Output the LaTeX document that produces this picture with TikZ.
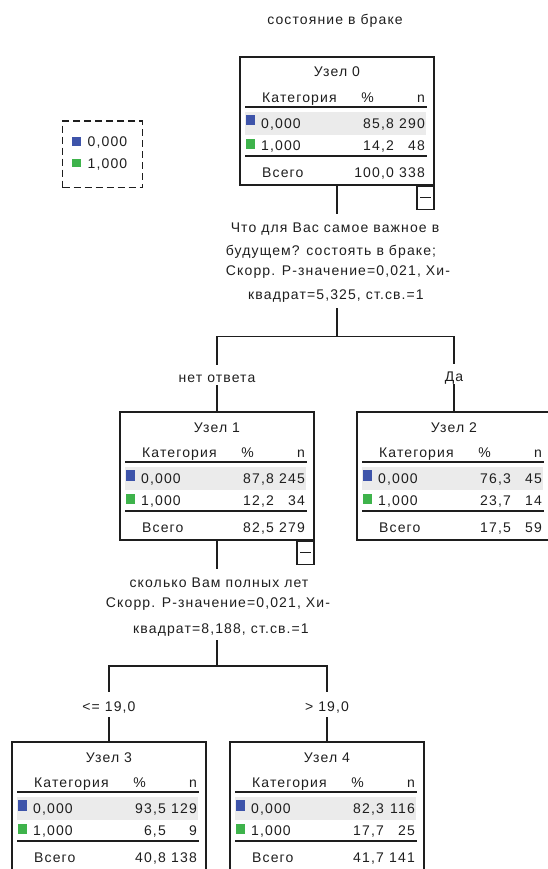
\documentclass[tikz,border=0pt]{standalone}
\usepackage{fontspec}
\setmainfont{Liberation Sans}[LetterSpace=8]
\definecolor{ink}{HTML}{1E1E1E}
\definecolor{cblue}{HTML}{3E54AA}
\definecolor{cgreen}{HTML}{3EB34B}
\definecolor{band}{HTML}{EBEBEB}
\tikzset{
  txt/.style={inner sep=0pt, font=\fontsize{14}{16}\selectfont, text=ink},
  frame/.style={draw=ink, line width=1.3pt, minimum width=194pt, minimum height=128pt, inner sep=0pt},
  rule/.style={draw=ink, line width=2pt},
  conn/.style={draw=ink, line width=1.4pt},
  minusbox/.style={draw=ink, line width=1.3pt, minimum width=17pt, minimum height=23pt, inner sep=0pt},
  labA/.style={txt, anchor=base, text height=17pt, text depth=3pt},
  labB/.style={txt, anchor=base, text height=19pt, text depth=6pt},
  legendbox/.style={draw=ink, line width=1.3pt, dash pattern=on 7pt off 4pt, minimum width=80pt, minimum height=66.5pt, inner sep=0pt},
}
% #1 name, #2 x0,y0, #3 title, #4 p1, #5 n1, #6 p2, #7 n2, #8 ptot, #9 ntot
\newcommand{\treenode}[9]{%
\begin{scope}[shift={(#2)}]
  \fill[band] (5,55) rectangle (186,78);
  \node[frame] (#1) at (97,64) {};
  \node[txt, anchor=base] (#1-title) at (97,20) {#3};
  \node[txt, anchor=base west] (#1-hc) at (22,45.5) {Категория};
  \node[txt, anchor=base] (#1-hp) at (127.5,45.5) {\%};
  \node[txt, anchor=base east] (#1-hn) at (185,45.5) {n};
  \draw[rule] (5,50) -- (187,50);
  \fill[cblue] (5.7,58) rectangle (15,68.5);
  \node[txt, anchor=base west] (#1-c0) at (21,71.5) {0,000};
  \node[txt, anchor=base east] (#1-p0) at (154,71.5) {#4};
  \node[txt, anchor=base east] (#1-n0) at (185,71.5) {#5};
  \fill[cgreen] (5.7,82) rectangle (15,92);
  \node[txt, anchor=base west] (#1-c1) at (21,93.5) {1,000};
  \node[txt, anchor=base east] (#1-p1) at (154,93.5) {#6};
  \node[txt, anchor=base east] (#1-n1) at (185,93.5) {#7};
  \draw[rule] (5,99) -- (187,99);
  \node[txt, anchor=base west] (#1-tc) at (22,120.5) {Всего};
  \node[txt, anchor=base east] (#1-tp) at (154,120.5) {#8};
  \node[txt, anchor=base east] (#1-tn) at (185,120.5) {#9};
\end{scope}}
\begin{document}
\begin{tikzpicture}[x=1pt, y=-1pt]
\useasboundingbox (0,0) rectangle (548,869);

% title
\node[txt, anchor=base] (title) at (335,25) {состояние в браке};

% legend
\node[legendbox, anchor=north west] (legend) at (62,120.5) {};
\fill[cblue] (72,137.3) rectangle (81,146);
\node[txt, anchor=base west] (lg0) at (87.5,146.5) {0,000};
\fill[cgreen] (72,159.3) rectangle (81,167.5);
\node[txt, anchor=base west] (lg1) at (87.5,168) {1,000};

% nodes
\treenode{n0}{240,57}{Узел 0}{85,8}{290}{14,2}{48}{100,0}{338}
\treenode{n1}{120,412}{Узел 1}{87,8}{245}{12,2}{34}{82,5}{279}
\treenode{n2}{357,412}{Узел 2}{76,3}{45}{23,7}{14}{17,5}{59}
\treenode{n3}{12,742}{Узел 3}{93,5}{129}{6,5}{9}{40,8}{138}
\treenode{n4}{230,742}{Узел 4}{82,3}{116}{17,7}{25}{41,7}{141}

% collapse boxes
\node[minusbox, anchor=north east] (n0m) at (n0.south east) {};
\draw[ink, line width=1.2pt] ([xshift=-5.5pt]n0m.center) -- ([xshift=5.5pt]n0m.center);
\node[minusbox, anchor=north east] (n1m) at (n1.south east) {};
\draw[ink, line width=1.2pt] ([xshift=-5.5pt]n1m.center) -- ([xshift=5.5pt]n1m.center);

% split 1
\node[txt, anchor=base] (s1a) at (335,232) {Что для Вас самое важное в};
\node[txt, anchor=base] (s1b) at (331,255) {будущем? состоять в браке;};
\node[txt, anchor=base] (s1c) at (338,275) {Скорр. P-значение=0,021, Хи-};
\node[txt, anchor=base] (s1d) at (336,299) {квадрат=5,325, ст.св.=1};
\coordinate (s1top) at (337,214);
\coordinate (s1bot) at (337,308);
\coordinate (j1) at (337,336.5);
\node[labA] (l1) at (217,382) {нет ответа};
\node[labA] (l2) at (454,381) {Да};

\draw[conn] (n0.south) -- (s1top);
\draw[conn] (s1bot) -- (j1);
\draw[conn] (j1) -| (l1.north);
\draw[conn] (j1) -| (l2.north);
\draw[conn] (l1.south) -- (n1.north);
\draw[conn] (l2.south) -- (n2.north);

% split 2
\node[txt, anchor=base] (s2a) at (219,587) {сколько Вам полных лет};
\node[txt, anchor=base] (s2b) at (218,607) {Скорр. P-значение=0,021, Хи-};
\node[txt, anchor=base] (s2c) at (221,633) {квадрат=8,188, ст.св.=1};
\coordinate (s2top) at (217,569);
\coordinate (s2bot) at (217,640);
\coordinate (j2) at (217,666);
\node[labB] (l3) at (109,711) {<= 19,0};
\node[labB] (l4) at (327,711) {> 19,0};

\draw[conn] (n1.south) -- (s2top);
\draw[conn] (s2bot) -- (j2);
\draw[conn] (j2) -| (l3.north);
\draw[conn] (j2) -| (l4.north);
\draw[conn] (l3.south) -- (n3.north);
\draw[conn] (l4.south) -- (n4.north);
\end{tikzpicture}
\end{document}
